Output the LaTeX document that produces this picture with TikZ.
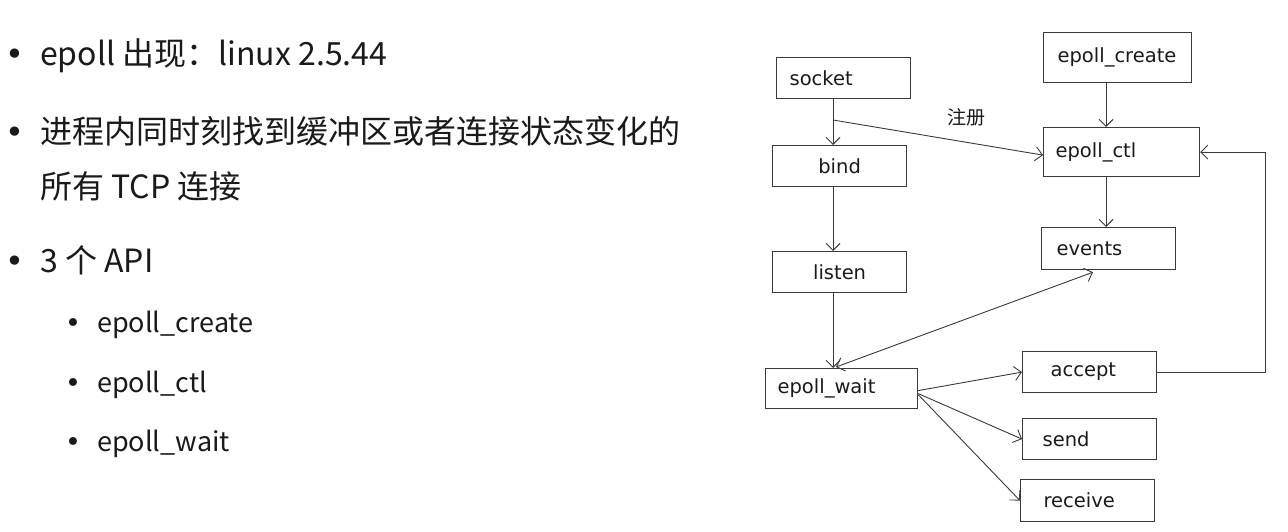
\documentclass[tikz,border=0pt]{standalone}
\usepackage{fontspec}
\setmainfont{Noto Sans CJK SC}
\newfontfamily\dv{DejaVu Sans}
\usetikzlibrary{arrows.meta,calc}
\definecolor{linec}{HTML}{3A3A3A}
\definecolor{txtc}{HTML}{1A1A1A}
\begin{document}
\begin{tikzpicture}[x=1pt,y=-1pt,
  box/.style={draw=linec, line width=1.2pt, anchor=north west, inner xsep=0pt, inner ysep=0pt,
    align=left, text=txtc, font=\dv\fontsize{19.5}{22}\selectfont},
  cbox/.style={box, align=center},
  arr/.style={draw=linec, line width=0.9pt, -{Straight Barb[length=7pt,width=14pt]}},
  arrs/.style={draw=linec, line width=0.9pt, {Straight Barb[length=7pt,width=14pt]}-{Straight Barb[length=7pt,width=14pt]}},
  main/.style={anchor=base west, inner sep=0pt, text=txtc, font=\fontsize{32}{36}\selectfont},
  sub/.style={anchor=base west, inner sep=0pt, text=txtc, font=\fontsize{27}{30}\selectfont},
  bul/.style={anchor=base, inner sep=0pt, text=txtc, font=\dv\fontsize{32}{34}\selectfont},
  sbul/.style={anchor=base, inner sep=0pt, text=txtc, font=\dv\fontsize{27}{28}\selectfont}
]
\useasboundingbox[fill=white] (0,0) rectangle (1288,532);

% left text
\node[bul] (b1) at (15,66) {•};
\node[main] (l1) at (40,66) {epoll 出现：linux 2.5.44};
\node[bul] (b2) at (15,143) {•};
\node[main] (l2) at (40,143) {进程内同时刻找到缓冲区或者连接状态变化的};
\node[main] (l3) at (40,198) {所有 TCP 连接};
\node[bul] (b3) at (15,272) {•};
\node[main] (l4) at (40,272) {3 个 API};
\node[sbul] (s1) at (73,332) {•};
\node[sub] (t1) at (97,332) {epoll\_create};
\node[sbul] (s2) at (73,392) {•};
\node[sub] (t2) at (97,392) {epoll\_ctl};
\node[sbul] (s3) at (73,451) {•};
\node[sub] (t3) at (97,451) {epoll\_wait};

% boxes
\node[box, text width=134pt, minimum height=41pt] (socket) at (776,57) {\hspace*{13pt}socket};
\node[box, text width=148pt, minimum height=50pt] (create) at (1043,32) {\hspace*{14pt}epoll\_create};
\node[cbox, text width=134pt, minimum height=41pt] (bind) at (772,145) {bind};
\node[box, text width=156pt, minimum height=49pt] (ctl) at (1043,127) {\hspace*{12pt}epoll\_ctl};
\node[box, text width=134pt, minimum height=42pt] (events) at (1041,227) {\hspace*{15pt}events};
\node[cbox, text width=134pt, minimum height=41pt] (listen) at (772,251) {listen};
\node[box, text width=152pt, minimum height=40pt] (wait) at (765,368) {\hspace*{12pt}epoll\_wait};
\node[box, text width=134pt, minimum height=41pt] (accept) at (1022,351) {\hspace*{28pt}accept};
\node[box, text width=134pt, minimum height=41pt] (send) at (1022,418) {\hspace*{20pt}send};
\node[box, text width=134pt, minimum height=42pt] (receive) at (1020,479) {\hspace*{23pt}receive};

\node[inner sep=0pt, text=txtc, font=\fontsize{19}{22}\selectfont] (reg) at (966,117) {注册};

% guide coordinates
\coordinate (cx1) at (833,0);
\coordinate (cx2) at (1106,0);
\coordinate (cx3) at (836,0);
\coordinate (cx4) at (1093,0);
\coordinate (cx5) at (1265,0);
\coordinate (cr) at (833,120);

% connectors
\draw[arr] (socket.south -| cx1) -- (bind.north -| cx1);
\draw[arr] (cr) -- ($(ctl.west)+(0,3)$);
\draw[arr] (bind.south -| cx1) -- (listen.north -| cx1);
\draw[arr] (listen.south -| cx1) -- (wait.north -| cx1);
\draw[arr] (create.south -| cx2) -- (ctl.north -| cx2);
\draw[arr] (ctl.south -| cx2) -- (events.north -| cx2);
\draw[arrs] ($(wait.north -| cx3)+(0,-1)$) -- ($(events.south -| cx4)+(0,2)$);
\draw[arr] ($(wait.east)+(0,2)$) -- (accept.west);
\draw[arr] ($(wait.east)+(0,5)$) -- (send.west);
\draw[arr] ($(wait.east)+(0,6)$) -- (receive.west);
\draw[arr] (accept.east) -| (cx5 |- ctl.east) -- (ctl.east);
\end{tikzpicture}
\end{document}
